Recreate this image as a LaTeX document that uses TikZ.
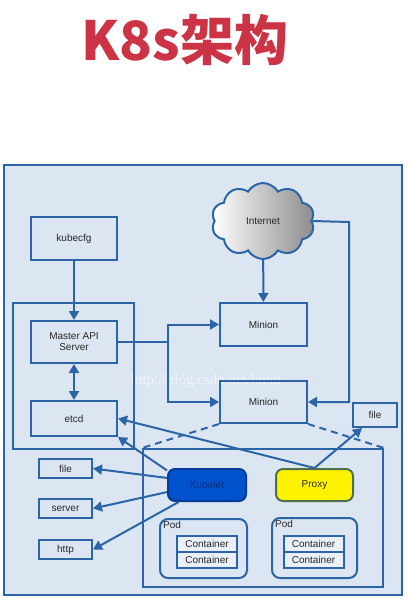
\documentclass[tikz,border=0pt]{standalone}
\usepackage{fontspec}
\setmainfont{Liberation Sans}
\newfontfamily\cjk{Noto Sans CJK SC}
\newfontfamily\wmfont{Liberation Serif}
\usetikzlibrary{arrows.meta,shapes.symbols}
\definecolor{kline}{RGB}{43,101,168}
\definecolor{kbg}{RGB}{220,230,242}
\definecolor{kred}{RGB}{204,51,68}
\definecolor{kblue}{RGB}{0,82,204}
\definecolor{ktext}{RGB}{40,40,40}
\begin{document}
\begin{tikzpicture}[x=1pt,y=-1pt,box/.style={draw=kline,line width=2pt,minimum width=86pt,minimum height=43pt,inner sep=1pt,align=center,text=ktext,font=\fontsize{10}{11}\selectfont},sbox/.style={box,minimum width=53pt,minimum height=19pt},grp/.style={draw=kline,line width=2pt,inner sep=0pt},pod/.style={grp,rounded corners=8pt},cont/.style={box,fill=kbg!60!white,minimum width=60pt,minimum height=16pt},a/.style={-{Triangle[length=9pt,width=10pt]},draw=kline,line width=2pt},ln/.style={draw=kline,line width=2pt},dl/.style={ln,dashed,dash pattern=on 7pt off 5pt}]
\useasboundingbox (0,0) rectangle (407,602);
\node[font=\cjk\bfseries\fontsize{54}{60}\selectfont,text=kred] (title) at (185,40) {K8s架构};
\draw[fill=kbg,draw=kline,line width=2pt] (4,165) rectangle (402,595);
\node[font=\wmfont\fontsize{15}{16}\selectfont,text=white!55!kbg] (wm) at (206,381) {http://blog.csdn.net/huxu};
% master side
\node[grp,minimum width=121pt,minimum height=146pt] (mg) at (73.5,376) {};
\node[box] (cfg) at (74,238.5) {kubecfg};
\node[box,minimum height=42pt] (api) at (74,342) {Master API\\Server};
\node[box,minimum height=35pt] (etcd) at (74,418.5) {etcd};
% minions and internet
\node[cloud,cloud puffs=10,cloud puff arc=120,aspect=1.35,minimum width=103pt,minimum height=76pt,draw=kline,line width=2pt,left color=white,right color=black!45,text=ktext,font=\fontsize{10}{11}\selectfont] (net) at (263,221) {Internet};
\node[box,minimum width=87pt] (m1) at (263.5,324.5) {Minion};
\node[box,minimum width=87pt,minimum height=42pt] (m2) at (263.5,402) {Minion};
\node[sbox,minimum width=44pt,minimum height=24pt] (f2) at (375,415) {file};
% node detail
\node[grp,minimum width=240pt,minimum height=138pt] (nd) at (263,518) {};
\node[box,rounded corners=7pt,fill=kblue,draw=kblue!75!black,minimum width=78pt,minimum height=32pt,text=kblue!60!black] (kub) at (207,485) {Kubelet};
\node[box,rounded corners=7pt,fill=yellow,draw=green!20!black!70,minimum width=77pt,minimum height=32pt] (prx) at (314.5,485) {Proxy};
\node[pod,minimum width=87pt,minimum height=59pt] (p1) at (203.5,548.5) {};
\node[pod,minimum width=85pt,minimum height=60pt] (p2) at (314.5,548) {};
\node[anchor=north west,inner sep=1pt,xshift=3pt,yshift=-2pt,text=ktext,font=\fontsize{10}{11}\selectfont] at (p1.north west) {Pod};
\node[anchor=north west,inner sep=1pt,xshift=3pt,yshift=-2pt,text=ktext,font=\fontsize{10}{11}\selectfont] at (p2.north west) {Pod};
\node[cont] (c11) at (207,544) {Container};
\node[cont] (c12) at (207,560) {Container};
\node[cont] (c21) at (313.5,544) {Container};
\node[cont] (c22) at (313.5,560) {Container};
\node[sbox] (f1) at (65.5,468.5) {file};
\node[sbox] (srv) at (65.5,508.5) {server};
\node[sbox] (htp) at (65.5,549.5) {http};
% connectors
\coordinate (j) at (168,342);
\coordinate (r) at (349,222);
\draw[a] (cfg) -- (api);
\draw[a,{Triangle[length=9pt,width=10pt]}-{Triangle[length=9pt,width=10pt]}] (api) -- (etcd);
\draw[ln] (api.east) -- (j);
\draw[a] (j) |- (m1.west);
\draw[a] (j) |- (m2.west);
\draw[a] (net) -- (m1);
\draw[a] (net.east) -- (r) |- (m2.east);
\draw[dl] (m2.south west) -- (nd.north west);
\draw[dl] (m2.south east) -- (nd.north east);
\draw[a] (kub.160) -- (etcd.south east);
\draw[a] (prx.north) -- (etcd.east);
\draw[a] (prx.north) -- (f2.225);
\draw[a] (kub.170) -- (f1.east);
\draw[a] (kub.190) -- (srv.east);
\draw[a] (kub.211) -- (htp.east);
\end{tikzpicture}
\end{document}
